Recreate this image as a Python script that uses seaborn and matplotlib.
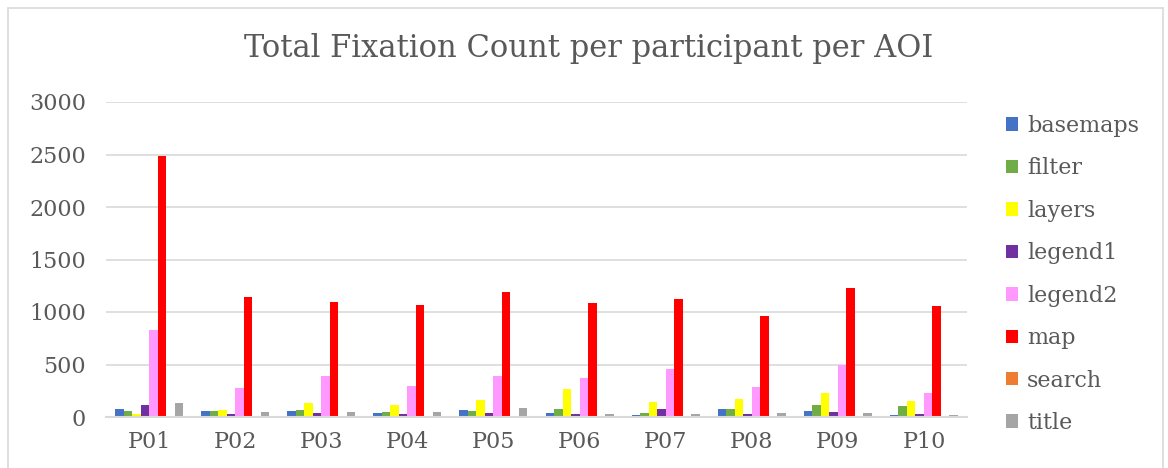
import numpy as np
import pandas as pd
import seaborn as sns
import matplotlib.pyplot as plt
from matplotlib.patches import Rectangle

# ----------------------------
# Data
# ----------------------------
participants = ["P01", "P02", "P03", "P04", "P05", "P06", "P07", "P08", "P09", "P10"]
aois = ["basemaps", "filter", "layers", "legend1", "legend2", "map", "search", "title"]

basemaps = [78, 57, 60, 41, 63, 38, 16, 76, 57, 18]
filter_ = [58, 57, 70, 48, 57, 79, 38, 76, 115, 102]
layers = [25, 70, 137, 114, 162, 267, 140, 175, 232, 155]
legend1 = [115, 25, 41, 29, 38, 32, 76, 25, 48, 24]
legend2 = [830, 276, 387, 298, 393, 375, 460, 286, 492, 230]
map_ = [2490, 1140, 1095, 1065, 1190, 1090, 1125, 965, 1230, 1055]
search = [5, 0, 5, 0, 0, 0, 0, 5, 8, 5]
title = [138, 48, 48, 48, 86, 32, 25, 41, 40, 18]

colors = ["#4472C4", "#70AD47", "#FFFF00", "#7030A0",
          "#FF99FF", "#FF0000", "#ED7D31", "#A5A5A5"]

series = [basemaps, filter_, layers, legend1, legend2, map_, search, title]
df = pd.DataFrame({
    "participant": np.repeat([participants], len(aois), axis=0).ravel(),
    "aoi": np.repeat(aois, len(participants)),
    "count": np.concatenate(series),
})

# ----------------------------
# Style
# ----------------------------
sns.set_style("white")
plt.rcParams["font.family"] = ["DejaVu Serif"]
text_col = "#595959"
grid_col = "#D9D9D9"

fig = plt.figure(figsize=(11.68, 4.68), dpi=100)
ax = fig.add_axes([106 / 1168, 1 - 417 / 468, (967 - 106) / 1168, (417 - 102) / 468])

sns.barplot(data=df, x="participant", y="count", hue="aoi",
            hue_order=aois, palette=dict(zip(aois, colors)),
            width=0.79, saturation=1, linewidth=0, ax=ax, legend=True)

ax.set_ylim(0, 3000)
ax.set_xlim(-0.5, 9.5)
ax.set_yticks(range(0, 3001, 500))
ax.yaxis.grid(True, color=grid_col, linewidth=1.2)
ax.set_axisbelow(True)
for s in ["top", "right", "left"]:
    ax.spines[s].set_visible(False)
ax.spines["bottom"].set_color(grid_col)
ax.spines["bottom"].set_linewidth(1.5)
ax.tick_params(axis="both", length=0, labelsize=16, labelcolor=text_col)
ax.tick_params(axis="y", pad=14.5)
ax.tick_params(axis="x", pad=10)
ax.set_xlabel("")
ax.set_ylabel("")

fig.text(0.504, 1 - 48 / 468, "Total Fixation Count per participant per AOI",
         ha="center", va="center", fontsize=22, color=text_col)

handles, labels = ax.get_legend_handles_labels()
ax.legend(handles, labels, loc="upper left",
          bbox_to_anchor=(997 / 1168, 1 - 106 / 468),
          bbox_transform=fig.transFigure, frameon=False,
          fontsize=16, labelcolor=text_col, handlelength=0.55,
          handleheight=0.55, handletextpad=0.4, labelspacing=0.92,
          borderaxespad=0)

# thin chart border like the reference
fig.patches.append(Rectangle((8 / 1168, -0.05), (1163 - 8) / 1168, 1.05 - 8 / 468,
                             transform=fig.transFigure, fill=False,
                             edgecolor=grid_col, linewidth=1.2))

fig.savefig("out.png", dpi=100)
plt.close(fig)
